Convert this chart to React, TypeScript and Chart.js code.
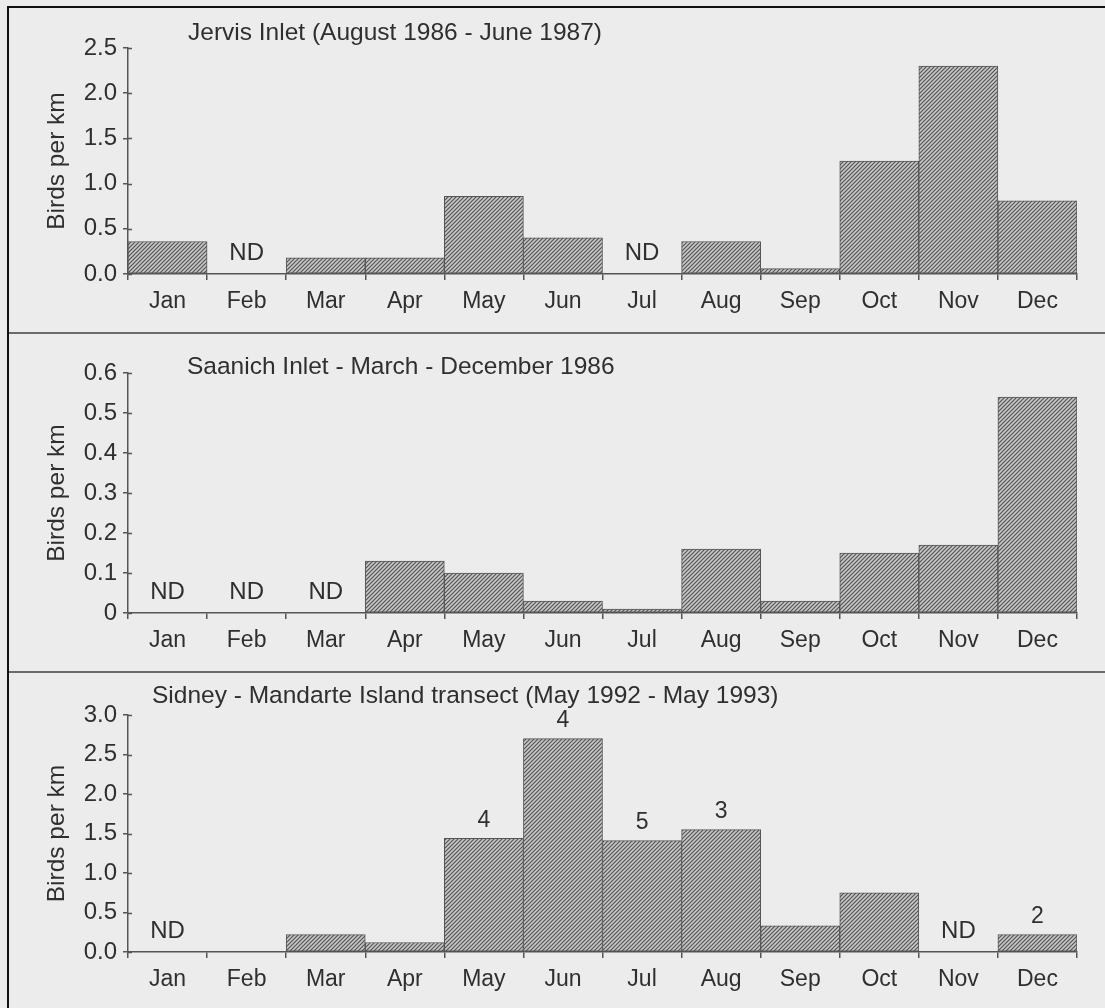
import React, { useEffect, useRef } from "react";
import { Chart, registerables } from "chart.js";

Chart.register(...registerables);

// ---------- data ----------
const MONTHS = ["Jan", "Feb", "Mar", "Apr", "May", "Jun", "Jul", "Aug", "Sep", "Oct", "Nov", "Dec"];
const Y_AXIS_TITLE = "Birds per km";

const JERVIS_TITLE = "Jervis Inlet (August 1986 - June 1987)";
const JERVIS_VALUES = [0.36, null, 0.18, 0.18, 0.86, 0.40, null, 0.36, 0.06, 1.25, 2.30, 0.81];
const JERVIS_ND = ["Feb", "Jul"];
const JERVIS_COUNTS = [null, null, null, null, null, null, null, null, null, null, null, null];
const JERVIS_TICK_LABELS = ["0.0", "0.5", "1.0", "1.5", "2.0", "2.5"];
const JERVIS_MAX = 2.5;
const JERVIS_STEP = 0.5;

const SAANICH_TITLE = "Saanich Inlet - March - December 1986";
const SAANICH_VALUES = [null, null, null, 0.13, 0.10, 0.03, 0.01, 0.16, 0.03, 0.15, 0.17, 0.54];
const SAANICH_ND = ["Jan", "Feb", "Mar"];
const SAANICH_COUNTS = [null, null, null, null, null, null, null, null, null, null, null, null];
const SAANICH_TICK_LABELS = ["0", "0.1", "0.2", "0.3", "0.4", "0.5", "0.6"];
const SAANICH_MAX = 0.6;
const SAANICH_STEP = 0.1;

const SIDNEY_TITLE = "Sidney - Mandarte Island transect (May 1992 - May 1993)";
const SIDNEY_VALUES = [null, null, 0.22, 0.12, 1.44, 2.70, 1.41, 1.55, 0.33, 0.75, null, 0.22];
const SIDNEY_ND = ["Jan", "Nov"];
const SIDNEY_COUNTS = [null, null, null, null, 4, 4, 5, 3, null, null, null, 2];
const SIDNEY_TICK_LABELS = ["0.0", "0.5", "1.0", "1.5", "2.0", "2.5", "3.0"];
const SIDNEY_MAX = 3.0;
const SIDNEY_STEP = 0.5;

// ---------- styling / layout ----------
const W = 1105;
const FONT = "'Liberation Sans', Arial, Helvetica, sans-serif";
const TEXT = "#2f2f2f";
const AXIS = "#555555";
const BG = "#ececec";
const AXIS_X = 128; // page x of y axis
const PLOT_RIGHT = 1077;

type PanelCfg = {
  title: string;
  values: (number | null)[];
  nd: string[];
  counts: (number | null)[];
  tickLabels: string[];
  max: number;
  step: number;
  top: number; // canvas top in page
  height: number;
  plotTop: number; // page y
  plotBottom: number; // page y
  titleX: number;
  titleY: number; // page y (center)
};

const PANELS: PanelCfg[] = [
  {
    title: JERVIS_TITLE, values: JERVIS_VALUES, nd: JERVIS_ND, counts: JERVIS_COUNTS,
    tickLabels: JERVIS_TICK_LABELS, max: JERVIS_MAX, step: JERVIS_STEP,
    top: 9, height: 323, plotTop: 48, plotBottom: 274, titleX: 188, titleY: 33,
  },
  {
    title: SAANICH_TITLE, values: SAANICH_VALUES, nd: SAANICH_ND, counts: SAANICH_COUNTS,
    tickLabels: SAANICH_TICK_LABELS, max: SAANICH_MAX, step: SAANICH_STEP,
    top: 334, height: 337, plotTop: 373, plotBottom: 613, titleX: 187, titleY: 367,
  },
  {
    title: SIDNEY_TITLE, values: SIDNEY_VALUES, nd: SIDNEY_ND, counts: SIDNEY_COUNTS,
    tickLabels: SIDNEY_TICK_LABELS, max: SIDNEY_MAX, step: SIDNEY_STEP,
    top: 673, height: 335, plotTop: 715, plotBottom: 952, titleX: 152, titleY: 696,
  },
];

function makeHatch(ctx: CanvasRenderingContext2D): CanvasPattern | string {
  const c = document.createElement("canvas");
  c.width = 4;
  c.height = 4;
  const g = c.getContext("2d");
  if (!g) return "#999";
  g.fillStyle = "#c8c8c8";
  g.fillRect(0, 0, 4, 4);
  g.strokeStyle = "#535353";
  g.lineWidth = 1.2;
  g.beginPath();
  g.moveTo(0, 4); g.lineTo(4, 0);
  g.moveTo(-1, 1); g.lineTo(1, -1);
  g.moveTo(3, 5); g.lineTo(5, 3);
  g.stroke();
  return ctx.createPattern(c, "repeat") || "#999";
}

function Panel({ cfg }: { cfg: PanelCfg }) {
  const ref = useRef<HTMLCanvasElement | null>(null);
  useEffect(() => {
    const canvas = ref.current;
    if (!canvas) return;
    const ctx = canvas.getContext("2d");
    if (!ctx) return;
    const hatch = makeHatch(ctx);
    const padTop = cfg.plotTop - cfg.top;
    const xScaleHeight = cfg.top + cfg.height - cfg.plotBottom;

    const annotate = {
      id: "annotate",
      afterDraw(chart: any) {
        const c = chart.ctx as CanvasRenderingContext2D;
        const x = chart.scales.x;
        const y = chart.scales.y;
        c.save();
        c.fillStyle = TEXT;
        // title
        c.font = `24.5px ${FONT}`;
        c.textAlign = "left";
        c.textBaseline = "middle";
        c.fillText(cfg.title, cfg.titleX, cfg.titleY - cfg.top);
        // small inner tick marks on y axis
        c.strokeStyle = AXIS;
        c.lineWidth = 1.5;
        y.ticks.forEach((t: any) => {
          const py = Math.round(y.getPixelForValue(t.value)) + 0.5;
          c.beginPath();
          c.moveTo(x.left, py);
          c.lineTo(x.left + 4, py);
          c.stroke();
        });
        // ND labels
        c.font = `24px ${FONT}`;
        c.textAlign = "center";
        const zero = y.getPixelForValue(0);
        cfg.nd.forEach((m) => {
          const px = x.getPixelForValue(MONTHS.indexOf(m));
          c.fillText("ND", px, zero - 21);
        });
        // counts above bars
        c.font = `23px ${FONT}`;
        cfg.counts.forEach((n, i) => {
          const v = cfg.values[i];
          if (n == null || v == null) return;
          c.fillText(String(n), x.getPixelForValue(i), y.getPixelForValue(v) - 18);
        });
        c.restore();
      },
    };

    const chart = new Chart(canvas, {
      type: "bar",
      data: {
        labels: MONTHS,
        datasets: [
          {
            data: cfg.values as any,
            backgroundColor: hatch as any,
            borderColor: AXIS,
            borderWidth: 1,
            borderSkipped: false,
            barPercentage: 1,
            categoryPercentage: 1,
          },
        ],
      },
      options: {
        responsive: false,
        animation: false,
        devicePixelRatio: 1,
        layout: { padding: { top: padTop, right: W - PLOT_RIGHT, bottom: 0, left: 0 } },
        plugins: {
          legend: { display: false },
          tooltip: { enabled: false },
          title: { display: false },
        },
        scales: {
          x: {
            type: "category",
            offset: true,
            grid: {
              offset: true,
              drawOnChartArea: false,
              drawTicks: true,
              tickLength: 6,
              color: AXIS,
              lineWidth: 1.5,
            },
            border: { display: true, color: AXIS, width: 1.5 },
            ticks: {
              color: TEXT,
              font: { family: FONT, size: 23 },
              padding: 8,
              maxRotation: 0,
              autoSkip: false,
            },
            afterFit(scale: any) {
              scale.height = xScaleHeight;
            },
          },
          y: {
            type: "linear",
            min: 0,
            max: cfg.max,
            grid: {
              drawOnChartArea: false,
              drawTicks: true,
              tickLength: 5,
              color: AXIS,
              lineWidth: 1.5,
            },
            border: { display: true, color: AXIS, width: 1.5 },
            ticks: {
              stepSize: cfg.step,
              color: TEXT,
              font: { family: FONT, size: 24 },
              padding: 6,
              callback: (_v: any, i: number) => cfg.tickLabels[i],
            },
            title: {
              display: true,
              text: Y_AXIS_TITLE,
              color: TEXT,
              font: { family: FONT, size: 24.5 },
              padding: { top: 43, bottom: 0 },
            },
            afterFit(scale: any) {
              scale.width = AXIS_X;
            },
          },
        },
      } as any,
      plugins: [annotate],
    });
    return () => chart.destroy();
  }, [cfg]);

  return (
    <canvas
      ref={ref}
      width={W}
      height={cfg.height}
      style={{ position: "absolute", left: 0, top: cfg.top, width: W, height: cfg.height }}
    />
  );
}

export default function App() {
  return (
    <div
      style={{
        position: "absolute",
        left: 0,
        top: 0,
        width: W,
        height: 1008,
        background: BG,
        overflow: "hidden",
      }}
    >
      {PANELS.map((p, i) => (
        <Panel key={i} cfg={p} />
      ))}
      <div style={{ position: "absolute", left: 7, top: 6, width: W - 7, height: 2, background: "#111" }} />
      <div style={{ position: "absolute", left: 7, top: 6, width: 2, height: 1008 - 6, background: "#111" }} />
      <div style={{ position: "absolute", left: 9, top: 332, width: W - 9, height: 2, background: "#6a6a6a" }} />
      <div style={{ position: "absolute", left: 9, top: 671, width: W - 9, height: 2, background: "#6a6a6a" }} />
    </div>
  );
}
